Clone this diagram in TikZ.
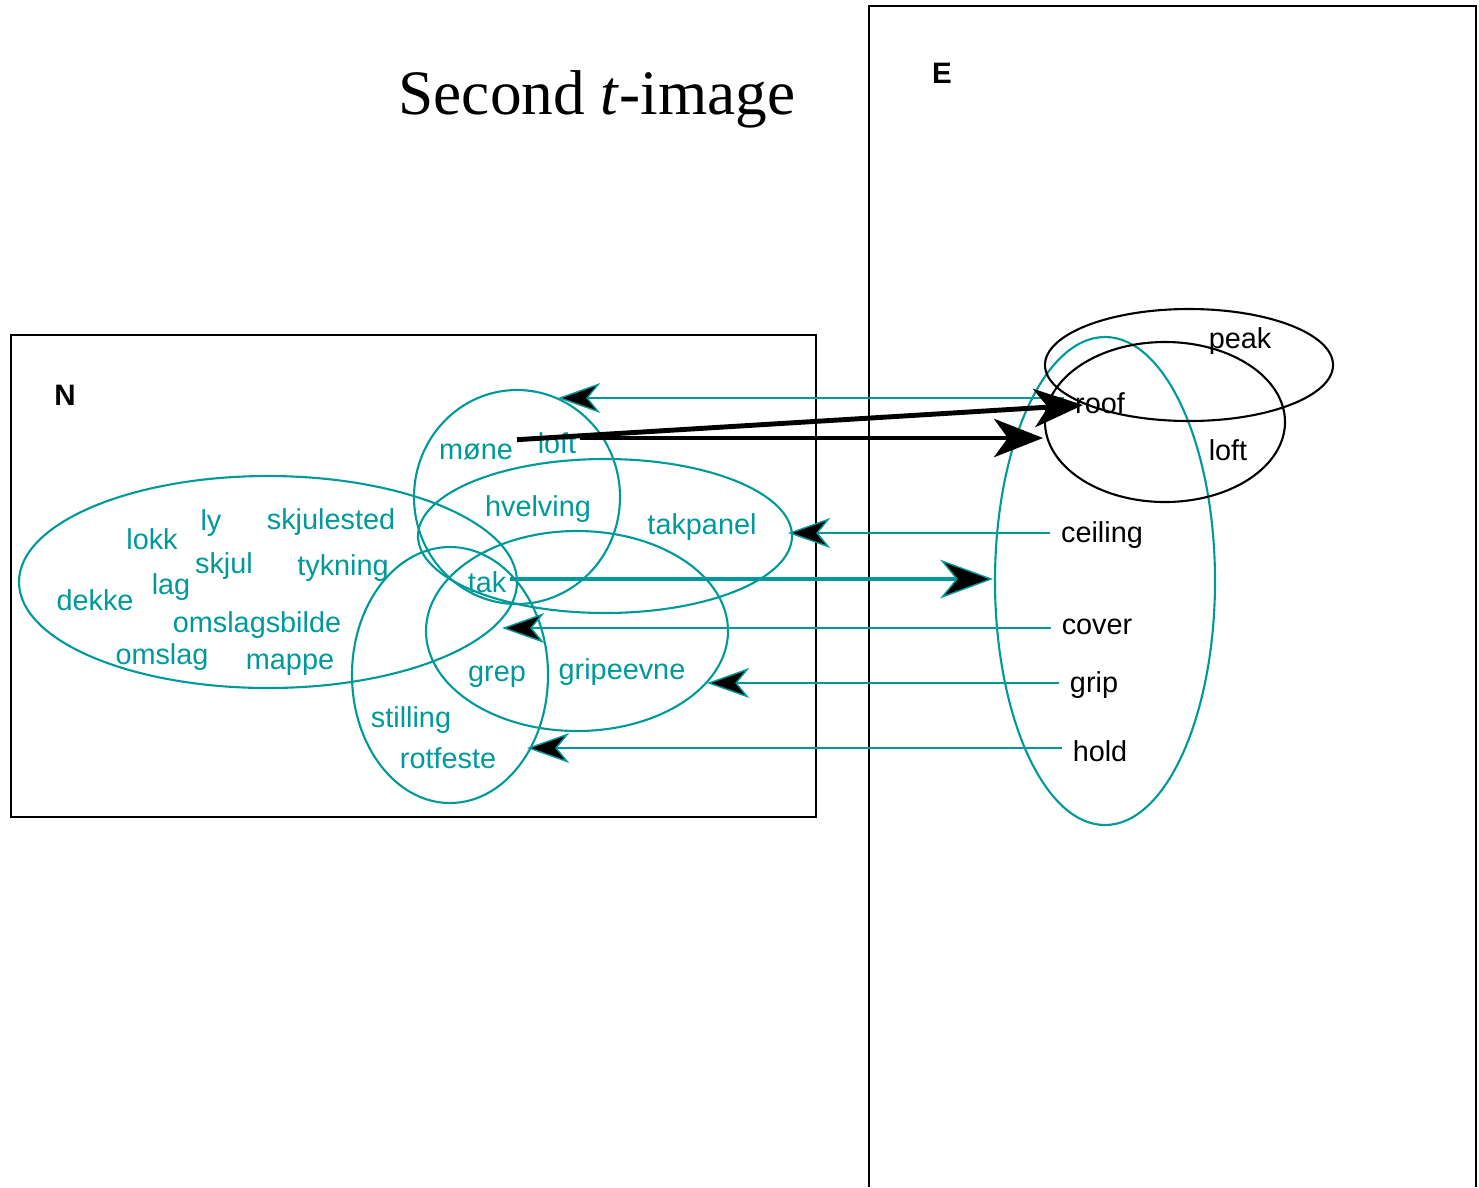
\documentclass[tikz,border=0pt]{standalone}
\usepackage{fontspec}
\setmainfont{Liberation Sans}
\newfontfamily\titlefont{Liberation Serif}
\usetikzlibrary{arrows.meta}
\definecolor{setteal}{RGB}{0,153,153}

\begin{document}
\begin{tikzpicture}[x=0.01cm, y=-0.01cm,
    nword/.style={text=setteal, inner sep=1pt, font=\fontsize{8.2}{10}\selectfont},
    eword/.style={text=black, inner sep=3pt, font=\fontsize{8.2}{10}\selectfont},
    boxname/.style={font=\fontsize{8.4}{10}\selectfont\bfseries},
    setline/.style={draw=setteal, line width=0.6pt},
    senseline/.style={draw=black, line width=0.6pt},
    backarrow/.style={draw=setteal, line width=0.7pt, -{Stealth[length=12pt,width=8.5pt,inset=3.5pt,line width=0.4pt,fill=black]}},
    takarrow/.style={draw=setteal, line width=1.2pt, -{Stealth[length=15pt,width=11pt,inset=4.5pt,line width=0.4pt,fill=black]}},
    wordarrow/.style={draw=black, line width=1.4pt, -{Stealth[length=14pt,width=11pt,inset=4pt,line width=0.4pt]}}]
    \useasboundingbox (0,0) rectangle (1479,1187);

    % title and the two boxes
    \node (title) at (597,99) {\titlefont\fontsize{18}{22}\selectfont Second \textit{t}-image};
    \draw[line width=0.6pt] (11,335) rectangle (816,817);
    \draw[line width=0.5pt] (869,1187) -- (869,6) -- (1476,6) -- (1476,1187);
    \node[boxname] (N) at (65,395) {N};
    \node[boxname] (E) at (942,73) {E};

    % Norwegian words
    \node[nword] (mone) at (476,452) {møne};
    \node[nword] (loft) at (557,443) {loft};
    \node[nword] (hvelving) at (538,509) {hvelving};
    \node[nword] (takpanel) at (702,527) {takpanel};
    \node[nword] (lokk) at (152,539) {lokk};
    \node[nword] (ly) at (211,523) {ly};
    \node[nword] (skjulested) at (331,522) {skjulested};
    \node[nword] (skjul) at (224,566) {skjul};
    \node[nword] (tykning) at (343,568) {tykning};
    \node[nword] (lag) at (171,587) {lag};
    \node[nword] (dekke) at (95,600) {dekke};
    \node[nword] (tak) at (487,582) {tak};
    \node[nword] (omslagsbilde) at (257,625) {omslagsbilde};
    \node[nword] (omslag) at (162,657) {omslag};
    \node[nword] (mappe) at (290,665) {mappe};
    \node[nword] (grep) at (497,677) {grep};
    \node[nword] (gripeevne) at (622,672) {gripeevne};
    \node[nword] (stilling) at (411,720) {stilling};
    \node[nword] (rotfeste) at (448,758) {rotfeste};

    % English words
    \node[eword] (peak) at (1240,341) {peak};
    \node[eword] (roof) at (1100,403) {roof};
    \node[eword] (loftE) at (1228,450) {loft};
    \node[eword] (ceiling) at (1102,535) {ceiling};
    \node[eword] (cover) at (1097,627) {cover};
    \node[eword] (grip) at (1094,685) {grip};
    \node[eword] (hold) at (1100,751) {hold};

    % the sets
    \draw[setline] (268,582) ellipse [x radius=249, y radius=106];
    \draw[setline] (517,497) ellipse [x radius=103, y radius=107];
    \draw[setline] (605,536) ellipse [x radius=187, y radius=77];
    \draw[setline] (577,631) ellipse [x radius=151, y radius=100];
    \draw[setline] (450,675) ellipse [x radius=98, y radius=128];
    \draw[setline] (1105,581) ellipse [x radius=110, y radius=244];
    \draw[senseline] (1189,365) ellipse [x radius=144, y radius=56];
    \draw[senseline] (1165,422) ellipse [x radius=120, y radius=80];

    % arrow tips on the sets
    \coordinate (tipMone) at (558,398);
    \coordinate (tipTakpanel) at (788,533);
    \coordinate (tipCover) at (502,628);
    \coordinate (tipGrip) at (707,683);
    \coordinate (tipHold) at (527,748);
    \coordinate (tipTak) at (993,579);
    \coordinate (tipRoof) at (1083,405);
    \coordinate (tipLoft) at (1043,438);

    \draw[backarrow] (roof.west |- tipMone) -- (tipMone);
    \draw[backarrow] (ceiling.west |- tipTakpanel) -- (tipTakpanel);
    \draw[backarrow] (cover.west |- tipCover) -- (tipCover);
    \draw[backarrow] (grip.west |- tipGrip) -- (tipGrip);
    \draw[backarrow] (hold.west |- tipHold) -- (tipHold);
    \draw[takarrow] (tak.east |- tipTak) -- (tipTak);
    \draw[wordarrow] (mone.north east) -- (tipRoof);
    \draw[wordarrow] (loft.east |- tipLoft) -- (tipLoft);
\end{tikzpicture}
\end{document}
